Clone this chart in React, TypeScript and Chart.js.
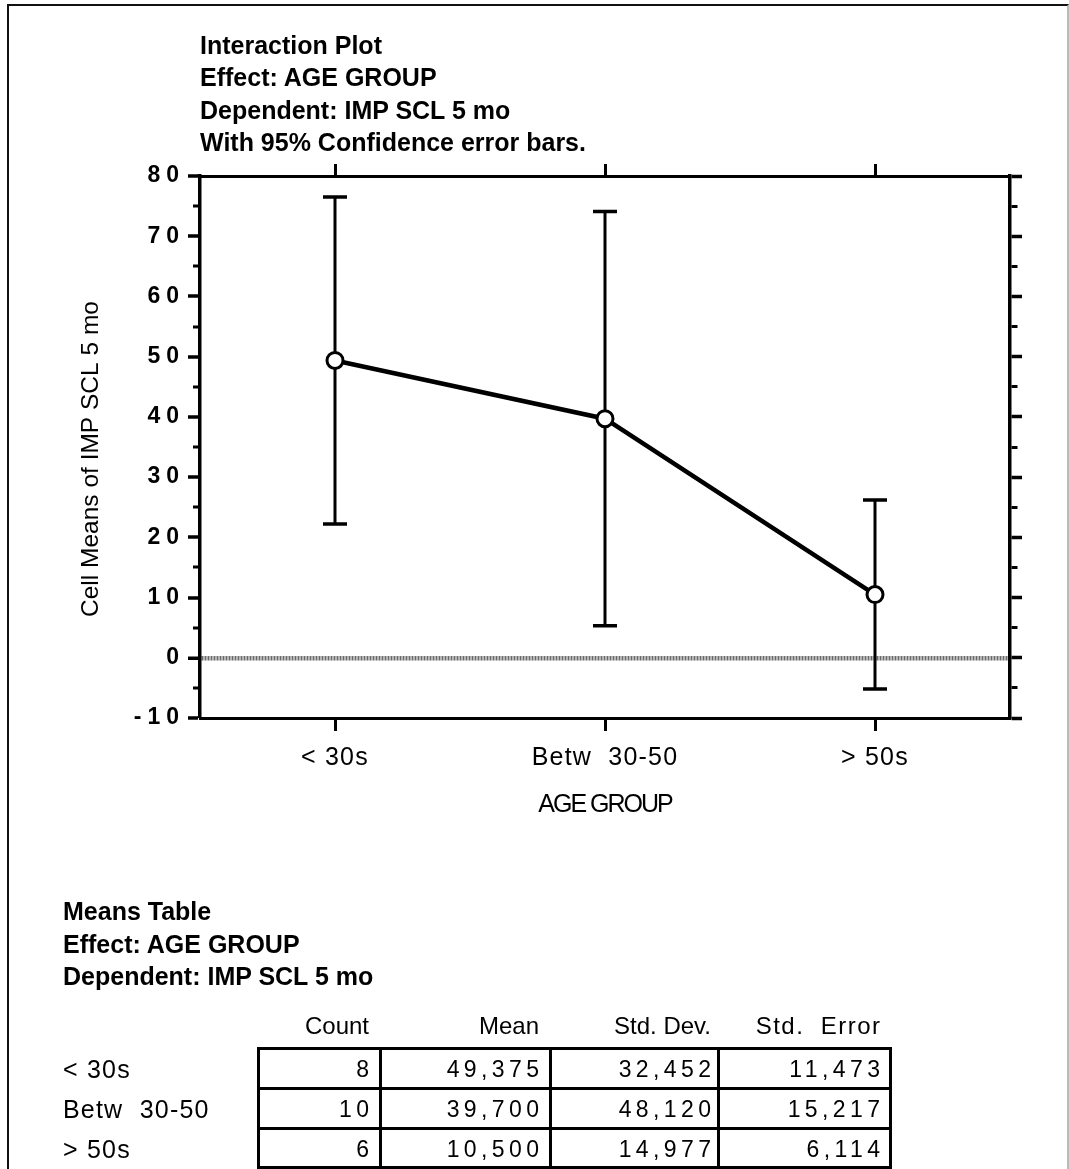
import React, { useEffect, useRef } from 'react';
import { Chart, registerables } from 'chart.js';

Chart.register(...registerables);

// ---------- data ----------
const categories = ['< 30s', 'Betw  30-50', '> 50s'];
const cellMeans = [49.375, 39.7, 10.5];
const ciUpper = [76.5, 74.1, 26.2];
const ciLower = [22.2, 5.3, -5.2];
const yMin = -10;
const yMax = 80;
const yMinorStep = 5;

const titleLines = [
  'Interaction Plot',
  'Effect: AGE GROUP',
  'Dependent: IMP SCL 5 mo',
  'With 95% Confidence error bars.',
];
const yAxisTitle = 'Cell Means of IMP SCL 5 mo';
const xAxisTitle = 'AGE GROUP';

const tableTitleLines = ['Means Table', 'Effect: AGE GROUP', 'Dependent: IMP SCL 5 mo'];
const tableColumns = ['Count', 'Mean', 'Std. Dev.', 'Std.  Error'];
const tableRows = ['< 30s', 'Betw  30-50', '> 50s'];
const countValues = ['8', '10', '6'];
const meanValues = ['49,375', '39,700', '10,500'];
const sdValues = ['32,452', '48,120', '14,977'];
const seValues = ['11,473', '15,217', '6,114'];

// ---------- styling ----------
const FONT = "'Liberation Sans', Arial, Helvetica, sans-serif";

const errorBarPlugin = {
  id: 'errorBars',
  beforeDatasetsDraw(chart: any) {
    const { ctx, scales } = chart;
    const x = scales.x;
    const y = scales.y;
    ctx.save();
    ctx.strokeStyle = '#000';
    ctx.lineCap = 'butt';
    for (let i = 0; i < categories.length; i++) {
      const px = x.getPixelForValue(i);
      const top = y.getPixelForValue(ciUpper[i]);
      const bot = y.getPixelForValue(ciLower[i]);
      ctx.lineWidth = 3;
      ctx.beginPath();
      ctx.moveTo(px, top);
      ctx.lineTo(px, bot);
      ctx.stroke();
      ctx.lineWidth = 3.5;
      ctx.beginPath();
      ctx.moveTo(px - 12, top);
      ctx.lineTo(px + 12, top);
      ctx.moveTo(px - 12, bot);
      ctx.lineTo(px + 12, bot);
      ctx.stroke();
    }
    ctx.restore();
  },
};

function wrap(scale: any, method: string, ctx: any, fn: (c: any) => void) {
  const key = '__wrapped_' + method;
  if (!scale || scale[key]) return;
  const orig = scale[method];
  scale[method] = function (...args: any[]) {
    ctx.save();
    fn(ctx);
    orig.apply(this, args);
    ctx.restore();
  };
  scale[key] = true;
}

const spacingPlugin = {
  id: 'letterSpacing',
  beforeDraw(chart: any) {
    const ctx = chart.ctx;
    const { x, y } = chart.scales;
    wrap(y, 'drawLabels', ctx, (c) => {
      c.letterSpacing = '6px';
    });
    wrap(y, 'drawTitle', ctx, (c) => {
      c.translate(0, 12);
    });
    wrap(x, 'drawLabels', ctx, (c) => {
      c.letterSpacing = '1.2px';
    });
    wrap(x, 'drawTitle', ctx, (c) => {
      c.letterSpacing = '-2px';
    });
  },
};

const isMajor = (c: any) => c && c.tick && Math.abs(c.tick.value % 10) === 0;

function PlotChart() {
  const ref = useRef<HTMLCanvasElement | null>(null);
  useEffect(() => {
    if (!ref.current) return;
    const chart = new Chart(ref.current, {
      type: 'line',
      data: {
        labels: categories,
        datasets: [
          {
            data: cellMeans,
            xAxisID: 'x',
            yAxisID: 'y',
            borderColor: '#000',
            borderWidth: 4.5,
            pointRadius: 8,
            pointBorderWidth: 3,
            pointBackgroundColor: '#fff',
            pointBorderColor: '#000',
            tension: 0,
            clip: false as any,
          },
        ],
      },
      options: {
        responsive: false,
        maintainAspectRatio: false,
        animation: false,
        layout: { padding: 0 },
        events: [],
        plugins: {
          legend: { display: false },
          tooltip: { enabled: false },
          title: { display: false },
        },
        scales: {
          x: {
            type: 'category',
            position: 'bottom',
            offset: true,
            afterFit: (s: any) => {
              s.height = 451;
            },
            grid: {
              offset: false,
              drawOnChartArea: false,
              tickColor: '#000',
              tickWidth: 3,
              tickLength: 13,
            },
            border: { color: '#000', width: 3 },
            ticks: {
              padding: 12,
              color: '#000',
              autoSkip: false,
              maxRotation: 0,
              font: { family: FONT, size: 25 },
            },
            title: {
              display: true,
              text: xAxisTitle,
              color: '#000',
              font: { family: FONT, size: 25 },
              padding: { top: 0, bottom: 349 },
            },
          },
          x2: {
            type: 'category',
            position: 'top',
            offset: true,
            afterFit: (s: any) => {
              s.height = 176;
            },
            grid: {
              offset: false,
              drawOnChartArea: false,
              tickColor: '#000',
              tickWidth: 3,
              tickLength: 12,
            },
            border: { color: '#000', width: 3 },
            ticks: { display: false },
          },
          y: {
            type: 'linear',
            position: 'left',
            min: yMin,
            max: yMax,
            afterFit: (s: any) => {
              s.width = 200;
            },
            ticks: {
              stepSize: yMinorStep,
              autoSkip: false,
              padding: 3,
              color: '#000',
              font: { family: FONT, size: 23, weight: 'bold' },
              callback: (v: any) => (Math.abs(Number(v) % 10) === 0 ? String(v) : ''),
            },
            grid: {
              drawOnChartArea: true,
              color: (c: any) => (c.tick && c.tick.value === 0 ? '#6a6a6a' : 'rgba(0,0,0,0)'),
              lineWidth: (c: any) => (c.tick && c.tick.value === 0 ? 4.5 : 0),
              tickColor: '#000',
              tickWidth: (c: any) => (isMajor(c) ? 3.5 : 3),
              tickLength: 12,
              tickBorderDash: (c: any) => (isMajor(c) ? [] : [0, 5, 7, 100]),
            },
            border: { color: '#000', width: 3.5, dash: [2, 1] },
            title: {
              display: true,
              text: yAxisTitle,
              color: '#000',
              font: { family: FONT, size: 24.5 },
              padding: { top: 77, bottom: 0 },
            },
          },
          y2: {
            type: 'linear',
            position: 'right',
            min: yMin,
            max: yMax,
            afterFit: (s: any) => {
              s.width = 59;
            },
            ticks: { display: false, stepSize: yMinorStep, autoSkip: false },
            grid: {
              drawOnChartArea: false,
              tickColor: '#000',
              tickWidth: (c: any) => (isMajor(c) ? 3.5 : 3),
              tickLength: 12,
              tickBorderDash: (c: any) => (isMajor(c) ? [] : [6, 100]),
            },
            border: { color: '#000', width: 3.5 },
          },
        },
      } as any,
      plugins: [errorBarPlugin, spacingPlugin],
    });
    return () => chart.destroy();
  }, []);
  return (
    <canvas
      ref={ref}
      width={1069}
      height={1169}
      style={{ position: 'absolute', left: 0, top: 0, width: 1069, height: 1169, display: 'block' }}
    />
  );
}

const abs = (s: React.CSSProperties): React.CSSProperties => ({ position: 'absolute', ...s });

// column geometry of the means table
const colLines = [258, 380, 550, 718, 890];
const textRight = [369, 539, 711, 880];
const headerSpacing = [0, 0, 0, 1.5];
const rowTops = [1048, 1088, 1128];
const rowH = 40;
const valueSpacing = 4.4;

export default function App() {
  const cellColumns = [countValues, meanValues, sdValues, seValues];
  return (
    <div
      style={abs({
        left: 0,
        top: 0,
        width: 1069,
        height: 1169,
        background: '#fff',
        overflow: 'hidden',
        fontFamily: FONT,
        color: '#000',
      })}
    >
      {/* page frame */}
      <div
        style={abs({
          left: 7,
          top: 4,
          width: 1058,
          height: 1250,
          borderLeft: '2px solid #111',
          borderTop: '2px solid #111',
          borderRight: '2px solid #bbb',
        })}
      />
      <PlotChart />

      {/* plot titles */}
      <div style={abs({ left: 200, top: 29, fontSize: 25, fontWeight: 'bold', lineHeight: '32.4px', whiteSpace: 'pre' })}>
        {titleLines.map((t) => (
          <div key={t}>{t}</div>
        ))}
      </div>

      {/* table titles */}
      <div style={abs({ left: 63, top: 895, fontSize: 25, fontWeight: 'bold', lineHeight: '32.5px', whiteSpace: 'pre' })}>
        {tableTitleLines.map((t) => (
          <div key={t}>{t}</div>
        ))}
      </div>

      {/* header */}
      {tableColumns.map((c, j) => (
        <div
          key={c}
          style={abs({
            right: 1069 - textRight[j] - headerSpacing[j],
            top: 1006,
            height: 40,
            lineHeight: '40px',
            fontSize: 24,
            letterSpacing: headerSpacing[j] + 'px',
            whiteSpace: 'pre',
            textAlign: 'right',
          })}
        >
          {c}
        </div>
      ))}

      {/* row labels */}
      {tableRows.map((r, i) => (
        <div
          key={r}
          style={abs({
            left: 63,
            top: rowTops[i] + 1,
            height: rowH,
            lineHeight: '40px',
            fontSize: 25,
            letterSpacing: '1.2px',
            whiteSpace: 'pre',
          })}
        >
          {r}
        </div>
      ))}

      {/* cell values */}
      {cellColumns.map((col, j) =>
        col.map((v, i) => (
          <div
            key={j + '-' + i}
            style={abs({
              right: 1069 - textRight[j] - valueSpacing,
              top: rowTops[i] + 1,
              height: rowH,
              lineHeight: '40px',
              fontSize: 23,
              letterSpacing: valueSpacing + 'px',
              whiteSpace: 'pre',
              textAlign: 'right',
            })}
          >
            {v}
          </div>
        ))
      )}

      {/* table grid lines */}
      {[...rowTops, rowTops[2] + rowH - 1].map((y, i) => (
        <div
          key={'h' + i}
          style={abs({ left: colLines[0] - 1.5, top: y - 1.5, width: colLines[4] - colLines[0] + 3, height: 3, background: '#000' })}
        />
      ))}
      {colLines.map((x, i) => (
        <div key={'v' + i} style={abs({ left: x - 1.5, top: rowTops[0] - 1.5, width: 3, height: rowH * 3 + 2, background: '#000' })} />
      ))}
    </div>
  );
}
